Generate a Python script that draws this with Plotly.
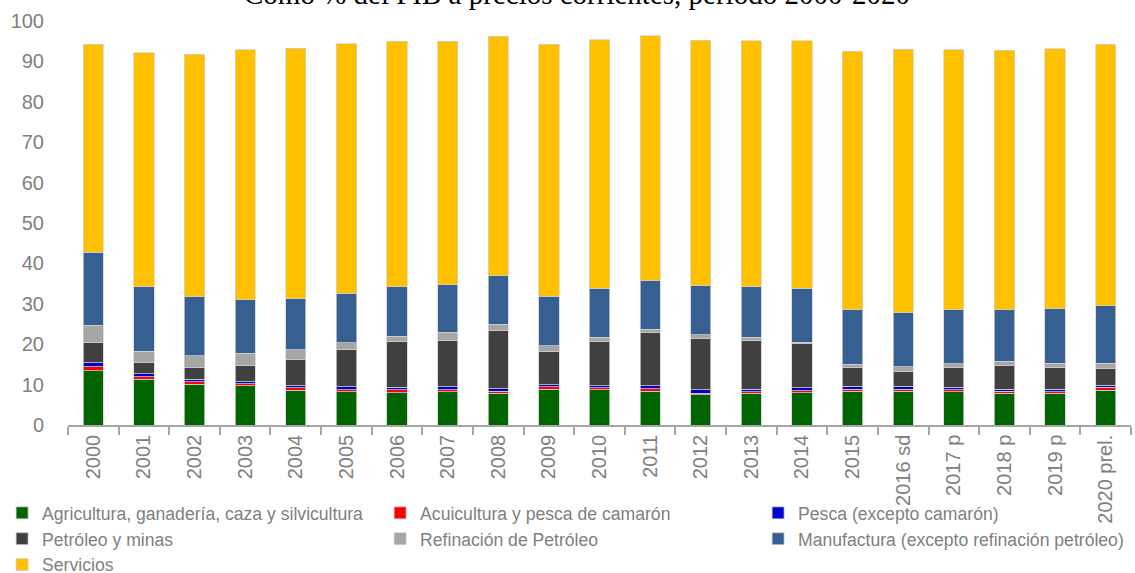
import plotly.graph_objects as go

years = ["2000", "2001", "2002", "2003", "2004", "2005", "2006", "2007", "2008", "2009",
         "2010", "2011", "2012", "2013", "2014", "2015", "2016 sd", "2017 p", "2018 p",
         "2019 p", "2020 prel."]

agricultura = [13.4, 11.3, 10.1, 9.7, 8.6, 8.2, 8.0, 8.2, 7.8, 8.9, 8.7, 8.4, 7.5, 7.8, 8.0,
               8.4, 8.4, 8.2, 7.8, 7.8, 8.6]
acuicultura = [1.0, 0.7, 0.6, 0.5, 0.6, 0.5, 0.7, 0.5, 0.5, 0.6, 0.5, 0.6, 0.4, 0.4, 0.5,
               0.5, 0.5, 0.5, 0.5, 0.4, 0.7]
pesca = [1.0, 0.7, 0.6, 0.5, 0.5, 0.8, 0.7, 0.8, 0.7, 0.5, 0.5, 0.7, 0.8, 0.6, 0.7,
         0.7, 0.7, 0.6, 0.6, 0.6, 0.5]
petroleo = [5.1, 2.7, 2.9, 4.1, 6.5, 9.1, 11.2, 11.5, 14.3, 8.1, 10.9, 13.1, 12.8, 12.2, 11.0,
            4.7, 3.7, 4.9, 5.8, 5.5, 4.1]
refinacion = [4.2, 2.9, 2.9, 2.9, 2.4, 1.8, 1.4, 1.9, 1.7, 1.5, 1.1, 0.9, 0.9, 0.7, 0.3,
              0.7, 1.1, 1.0, 1.1, 1.0, 1.4]
manufactura = [18.1, 15.9, 14.6, 13.3, 12.6, 12.2, 12.2, 11.8, 12.0, 12.3, 12.2, 12.0, 12.1,
               12.5, 13.4, 13.5, 13.4, 13.3, 12.7, 13.5, 14.2]
servicios = [51.4, 57.9, 60.1, 61.9, 62.1, 61.8, 60.8, 60.3, 59.2, 62.4, 61.5, 60.7, 60.7,
             60.9, 61.2, 64.0, 65.2, 64.4, 64.2, 64.3, 64.8]

series = [
    ("Agricultura, ganadería, caza y silvicultura", agricultura, "#006400"),
    ("Acuicultura y pesca de camarón", acuicultura, "#ff0000"),
    ("Pesca (excepto camarón)", pesca, "#0000cc"),
    ("Petróleo y minas", petroleo, "#404040"),
    ("Refinación de Petróleo", refinacion, "#a6a6a6"),
    ("Manufactura (excepto refinación petróleo)", manufactura, "#366092"),
    ("Servicios", servicios, "#ffc000"),
]

title_text = "Como % del PIB a precios corrientes, período 2000-2020"

fig = go.Figure()
for name, vals, color in series:
    fig.add_trace(go.Bar(
        x=years, y=vals, name=name,
        marker=dict(color=color, line=dict(color="#d0d0d0", width=0.75)),
    ))

fig.update_layout(
    width=1135, height=573,
    barmode="stack", bargap=0.6,
    plot_bgcolor="white", paper_bgcolor="white",
    margin=dict(l=68, r=4, t=21, b=148, autoexpand=False),
    showlegend=True,
    legend=dict(
        orientation="h", x=-0.062, xanchor="left", y=-0.173, yanchor="top",
        entrywidth=333, entrywidthmode="pixels",
        font=dict(family="Liberation Sans, Arial, sans-serif", size=17.6, color="#808080"),
        traceorder="normal", bgcolor="rgba(0,0,0,0)",
    ),
    xaxis=dict(
        type="category", tickangle=-90, showgrid=False,
        showline=True, linecolor="#a6a6a6", linewidth=1.5,
        ticks="outside", tickson="boundaries", ticklen=8, tickcolor="#a6a6a6", tickwidth=1.5,
        tickfont=dict(family="Liberation Sans, Arial, sans-serif", size=20, color="#808080"),
        range=[-0.5, 20.5],
    ),
    yaxis=dict(
        range=[0, 100], dtick=10, showgrid=False, zeroline=False, showline=False,
        ticks="", ticklabelstandoff=23,
        tickfont=dict(family="Liberation Sans, Arial, sans-serif", size=20, color="#808080"),
    ),
    annotations=[dict(
        text=title_text, xref="paper", yref="paper", x=0.479, y=1.066,
        xanchor="center", yanchor="middle", showarrow=False,
        font=dict(family="Liberation Serif, Times New Roman, serif", size=29, color="black"),
    )],
)

fig.write_html("out.html", config={"displayModeBar": False},
               post_script="document.body.style.margin='0';")
